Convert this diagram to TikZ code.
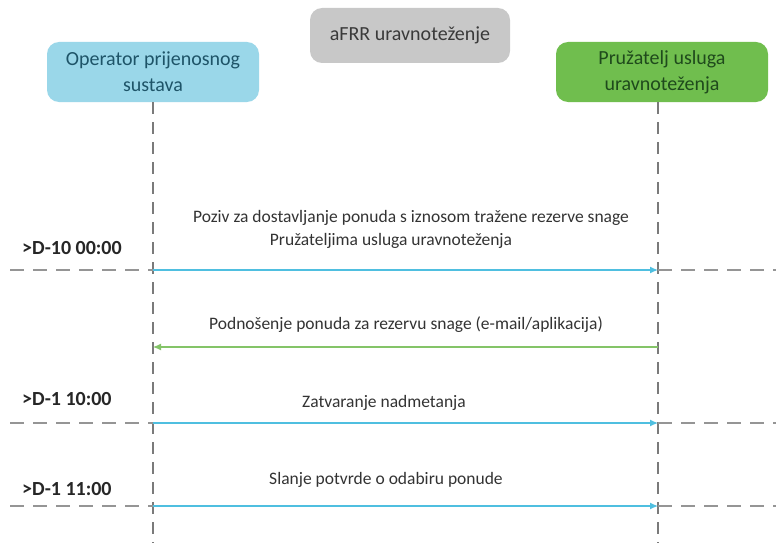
\documentclass[tikz,border=0pt]{standalone}
\usepackage{fontspec}
\setmainfont{Carlito}
\usetikzlibrary{arrows.meta}
\definecolor{boxblue}{HTML}{9AD7E9}
\definecolor{boxgreen}{HTML}{70BE4E}
\definecolor{boxgrey}{HTML}{C8C8C8}
\definecolor{txtblue}{HTML}{1E5468}
\definecolor{txtgreen}{HTML}{1F4A1C}
\definecolor{txtgrey}{HTML}{3A3A3A}
\definecolor{arrblue}{HTML}{4FBFE0}
\definecolor{arrgreen}{HTML}{84C468}
\definecolor{lifegrey}{HTML}{7A7A7A}
\begin{document}
\begin{tikzpicture}[x=1pt,y=-1pt,
  actor/.style={rounded corners=12pt, inner sep=0pt, align=center,
    font=\fontsize{20}{26}\selectfont},
  lifeline/.style={draw=lifegrey, line width=1.3pt, dash pattern=on 12pt off 8pt},
  timeline/.style={draw=lifegrey!80, line width=1.1pt, dash pattern=on 14pt off 9pt},
  msgblue/.style={draw=arrblue, line width=1.2pt, -{Latex[length=8pt,width=7pt]}},
  msggreen/.style={draw=arrgreen, line width=1.1pt, -{Latex[length=8pt,width=7pt]}},
  msgtext/.style={font=\fontsize{17.5}{23}\selectfont, text=black!80, inner sep=0pt},
  timetext/.style={font=\fontsize{20}{24}\selectfont\bfseries, text=black!85, inner sep=0pt, anchor=west}
]
\useasboundingbox (0,0) rectangle (776,543);
\fill[white] (0,0) rectangle (776,543);

% actors
\node[actor, fill=boxgrey, text=txtgrey, minimum width=200pt, minimum height=55pt] (title) at (410,35.5) {aFRR uravnoteženje};
\node[actor, fill=boxblue, text=txtblue, minimum width=212pt, minimum height=60pt] (tso) at (153,72) {Operator prijenosnog\\sustava};
\node[actor, fill=boxgreen, text=txtgreen, minimum width=212pt, minimum height=60pt] (bsp) at (662,72) {Pružatelj usluga\\uravnoteženja};

% lifeline ends
\coordinate (tsoTop) at (153,102);
\coordinate (tsoBot) at (153,543);
\coordinate (bspTop) at (658,102);
\coordinate (bspBot) at (658,543);
\draw[lifeline] (tsoTop) -- (tsoBot);
\draw[lifeline] (bspTop) -- (bspBot);

% row coordinates
\coordinate (l1) at (10,270);   \coordinate (a1) at (153,270); \coordinate (b1) at (658,270); \coordinate (r1) at (776,270);
\coordinate (a2) at (153,347); \coordinate (b2) at (658,347);
\coordinate (l3) at (10,423);   \coordinate (a3) at (153,423); \coordinate (b3) at (658,423); \coordinate (r3) at (776,423);
\coordinate (l4) at (10,506);   \coordinate (a4) at (153,506); \coordinate (b4) at (658,506); \coordinate (r4) at (776,506);

% time lines
\draw[timeline] (l1) -- (a1);
\draw[timeline] (b1) -- (r1);
\draw[timeline] (l3) -- (a3);
\draw[timeline] (b3) -- (r3);
\draw[timeline] (l4) -- (a4);
\draw[timeline] (b4) -- (r4);

% messages
\draw[msgblue] (a1) -- (b1);
\draw[msggreen] (b2) -- (a2);
\draw[msgblue] (a3) -- (b3);
\draw[msgblue] (a4) -- (b4);

% message texts
\node[msgtext] (m1a) at (411,218) {Poziv za dostavljanje ponuda s iznosom tražene rezerve snage};
\node[msgtext] (m1b) at (391,241) {Pružateljima usluga uravnoteženja};
\node[msgtext] (m2) at (406,325) {Podnošenje ponuda za rezervu snage (e-mail/aplikacija)};
\node[msgtext] (m3) at (384,403) {Zatvaranje nadmetanja};
\node[msgtext] (m4) at (386,480) {Slanje potvrde o odabiru ponude};

% time labels
\node[timetext] (t1) at (22,248) {>D-10 00:00};
\node[timetext] (t2) at (22,399) {>D-1 10:00};
\node[timetext] (t3) at (22,489) {>D-1 11:00};
\end{tikzpicture}
\end{document}
